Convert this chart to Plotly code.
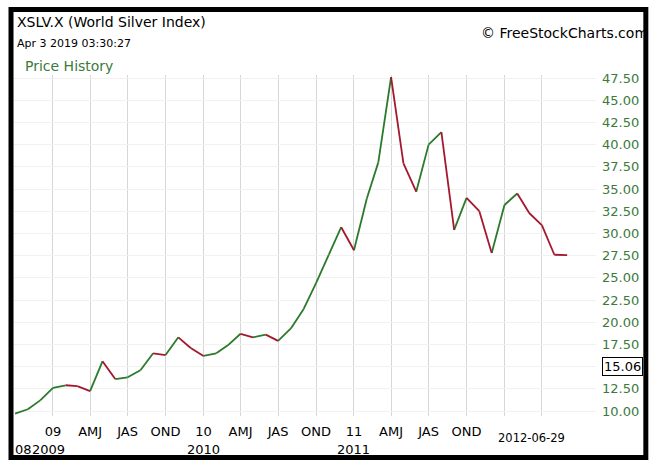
import plotly.graph_objects as go

# ---------------- data ----------------
months = [
    "2008-10-01", "2008-11-01", "2008-12-01",
    "2009-01-01", "2009-02-01", "2009-03-01", "2009-04-01", "2009-05-01", "2009-06-01",
    "2009-07-01", "2009-08-01", "2009-09-01", "2009-10-01", "2009-11-01", "2009-12-01",
    "2010-01-01", "2010-02-01", "2010-03-01", "2010-04-01", "2010-05-01", "2010-06-01",
    "2010-07-01", "2010-08-01", "2010-09-01", "2010-10-01", "2010-11-01", "2010-12-01",
    "2011-01-01", "2011-02-01", "2011-03-01", "2011-04-01", "2011-05-01", "2011-06-01",
    "2011-07-01", "2011-08-01", "2011-09-01", "2011-10-01", "2011-11-01", "2011-12-01",
    "2012-01-01", "2012-02-01", "2012-03-01", "2012-04-01", "2012-05-01", "2012-06-01",
]
prices = [
    9.7, 10.2, 11.2,
    12.6, 12.9, 12.8, 12.25, 15.6, 13.6,
    13.8, 14.6, 16.5, 16.3, 18.3, 17.1,
    16.2, 16.5, 17.4, 18.7, 18.3, 18.6,
    17.9, 19.3, 21.5, 24.4, 27.6, 30.7,
    28.1, 33.9, 38.0, 47.6, 37.9, 34.7,
    40.0, 41.4, 30.4, 34.0, 32.5, 27.8,
    33.2, 34.5, 32.3, 30.9, 27.6, 27.55,
]

tick_dates = [
    "2009-01-01", "2009-04-01", "2009-07-01", "2009-10-01",
    "2010-01-01", "2010-04-01", "2010-07-01", "2010-10-01",
    "2011-01-01", "2011-04-01", "2011-07-01", "2011-10-01",
    "2012-01-01", "2012-04-01",
]
tick_texts = ["09", "AMJ", "JAS", "OND", "10", "AMJ", "JAS", "OND",
              "11", "AMJ", "JAS", "OND", "", ""]

year_dates = ["2009-01-01", "2010-01-01", "2011-01-01"]
year_texts = ["2009", "2010", "2011"]

y_ticks = [10.0, 12.5, 15.0, 17.5, 20.0, 22.5, 25.0, 27.5, 30.0,
           32.5, 35.0, 37.5, 40.0, 42.5, 45.0, 47.5]
y_tick_texts = ["" if v == 15.0 else f"{v:.2f}" for v in y_ticks]

current_value = 15.06
last_date_label = "2012-06-29"
x_range = ["2008-09-26", "2012-08-10"]
y_range = [9.44, 47.84]

# ---------------- layout geometry ----------------
W, H = 651, 460
L, R, T, B = 13, 53, 75, 44
PW, PH = W - L - R, H - T - B


def px(x):
    return (x - L) / PW


def py(y):
    return (H - y - B) / PH


UP = "#2b7a2b"
DOWN = "#a3182e"
GREEN_TXT = "#3b7a3b"

up_x, up_y, dn_x, dn_y = [], [], [], []
for i in range(len(prices) - 1):
    if prices[i + 1] >= prices[i]:
        up_x += [months[i], months[i + 1], None]
        up_y += [prices[i], prices[i + 1], None]
    else:
        dn_x += [months[i], months[i + 1], None]
        dn_y += [prices[i], prices[i + 1], None]

fig = go.Figure()
fig.add_trace(go.Scatter(x=up_x, y=up_y, mode="lines",
                         line=dict(color=UP, width=1.8), connectgaps=False,
                         showlegend=False, hoverinfo="skip"))
fig.add_trace(go.Scatter(x=dn_x, y=dn_y, mode="lines",
                         line=dict(color=DOWN, width=1.8), connectgaps=False,
                         showlegend=False, hoverinfo="skip"))

FONT = "DejaVu Sans, Verdana, sans-serif"

annotations = [
    dict(text="XSLV.X (World Silver Index)", x=px(15), y=py(22), xref="paper", yref="paper",
         xanchor="left", yanchor="middle", showarrow=False, font=dict(size=14, color="black")),
    dict(text="Apr 3 2019 03:30:27", x=px(15), y=py(43), xref="paper", yref="paper",
         xanchor="left", yanchor="middle", showarrow=False, font=dict(size=11, color="black")),
    dict(text="Price History", x=px(23), y=py(66), xref="paper", yref="paper",
         xanchor="left", yanchor="middle", showarrow=False, font=dict(size=14, color=GREEN_TXT)),
    dict(text="© FreeStockCharts.com", x=px(481), y=py(33), xref="paper", yref="paper",
         xanchor="left", yanchor="middle", showarrow=False, font=dict(size=14, color="black")),
    dict(text=f"{current_value:.2f}", x=px(625), y=current_value, xref="paper", yref="y",
         xanchor="center", yanchor="middle", showarrow=False, bordercolor="black",
         borderwidth=1, borderpad=1, bgcolor="white", font=dict(size=13, color="black")),
    dict(text=last_date_label, x=months[-1], y=py(438), xref="x", yref="paper",
         xanchor="right", yanchor="middle", showarrow=False, font=dict(size=11.5, color="black")),
    dict(text="08", x=x_range[0], y=py(450), xref="x", yref="paper",
         xanchor="left", yanchor="middle", showarrow=False, font=dict(size=13, color="black")),
]
for d, t in zip(year_dates, year_texts):
    annotations.append(dict(text=t, x=d, y=py(450), xref="x", yref="paper",
                            xanchor="center", yanchor="middle", showarrow=False,
                            xshift=-4 if t == "2009" else 0,
                            font=dict(size=13, color="black")))

fig.update_layout(
    width=W, height=H,
    margin=dict(l=L, r=R, t=T, b=B, pad=0),
    paper_bgcolor="white", plot_bgcolor="white",
    font=dict(family=FONT, size=13, color="black"),
    xaxis=dict(type="date", range=x_range, tickvals=tick_dates, ticktext=tick_texts,
               showgrid=True, gridcolor="#d6d6d6", gridwidth=1, zeroline=False,
               showline=False, ticks="", ticklabelstandoff=6,
               tickfont=dict(size=13, color="black"), fixedrange=True),
    yaxis=dict(side="right", range=y_range, tickvals=y_ticks, ticktext=y_tick_texts,
               showgrid=True, gridcolor="#f1f1f1", gridwidth=1, zeroline=False,
               showline=False, ticks="", ticklabelstandoff=5,
               tickfont=dict(size=13, color=GREEN_TXT), fixedrange=True),
    annotations=annotations,
    shapes=[dict(type="rect", xref="paper", yref="paper",
                 x0=px(11), x1=px(648), y0=py(457.5), y1=py(9.5),
                 line=dict(color="black", width=5), fillcolor="rgba(0,0,0,0)",
                 layer="above")],
)

fig.write_html("out.html")
